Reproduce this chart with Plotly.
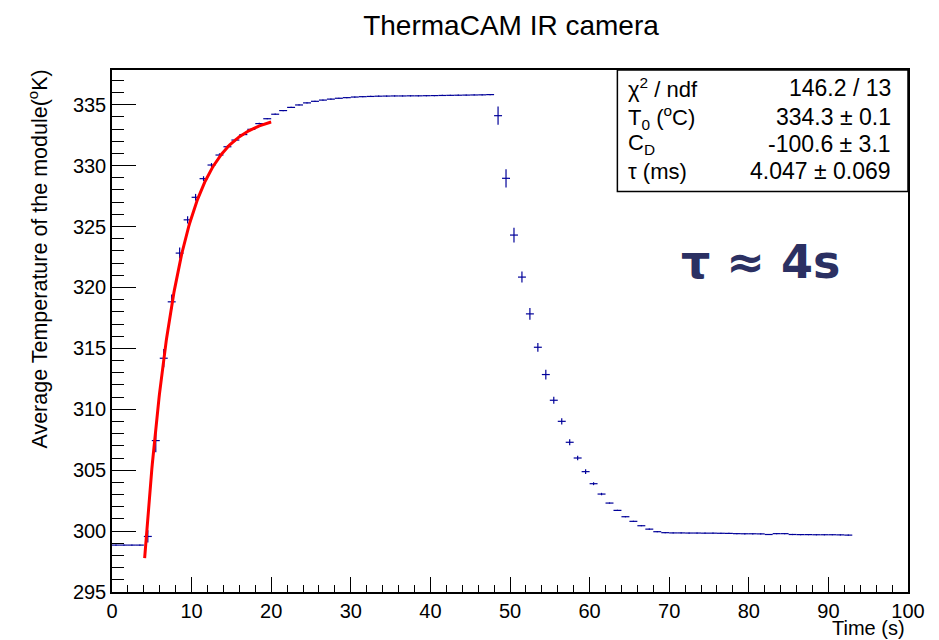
import numpy as np
import plotly.graph_objects as go

# ---- measured temperature profile (1 s bins, bin centres) ----
bin_centres = [i + 0.5 for i in range(93)]
temperature = [
    298.85, 298.85, 298.85, 298.85, 299.56, 307.43, 314.19, 318.82, 322.82, 325.55,
    327.40, 328.93, 330.05, 330.87, 331.55, 332.10, 332.55, 332.98, 333.45, 333.85,
    334.22, 334.52, 334.78, 334.98, 335.15, 335.28, 335.38, 335.46, 335.53, 335.58,
    335.63, 335.66, 335.68, 335.70, 335.71, 335.72, 335.72, 335.73, 335.73, 335.74,
    335.75, 335.76, 335.77, 335.78, 335.79, 335.80, 335.81, 335.83, 334.10, 328.96,
    324.30, 320.85, 317.83, 315.09, 312.85, 310.74, 309.01, 307.29, 306.00, 304.88,
    303.89, 303.04, 302.30, 301.70, 301.18, 300.80, 300.44, 300.16, 299.95, 299.87,
    299.85, 299.85, 299.84, 299.84, 299.83, 299.83, 299.82, 299.81, 299.79, 299.78,
    299.78, 299.77, 299.72, 299.79, 299.79, 299.72, 299.71, 299.71, 299.70, 299.70,
    299.70, 299.69, 299.67,
]
temperature_err = [
    0.05, 0.05, 0.05, 0.05, 0.50, 0.95, 0.75, 0.60, 0.45, 0.30,
    0.28, 0.20, 0.16, 0.14, 0.12, 0.10, 0.07, 0.06, 0.06, 0.05,
    0.05, 0.05, 0.05, 0.05, 0.05, 0.05, 0.05, 0.05, 0.05, 0.05,
    0.05, 0.05, 0.05, 0.05, 0.05, 0.05, 0.05, 0.05, 0.05, 0.05,
    0.05, 0.05, 0.05, 0.05, 0.05, 0.05, 0.05, 0.05, 0.75, 0.75,
    0.60, 0.45, 0.48, 0.36, 0.40, 0.28, 0.25, 0.25, 0.18, 0.20,
    0.12, 0.10, 0.05, 0.05, 0.05, 0.05, 0.05, 0.05, 0.05, 0.05,
    0.05, 0.05, 0.05, 0.05, 0.05, 0.05, 0.05, 0.05, 0.05, 0.05,
    0.05, 0.05, 0.05, 0.05, 0.05, 0.05, 0.05, 0.05, 0.05, 0.05,
    0.05, 0.05, 0.05,
]
BIN_WIDTH = 1.0

# ---- exponential rise fit:  T(t) = T0 + C_D * exp(-t / tau) ----
FIT_T0 = 334.3
FIT_CD = -100.6
FIT_TAU = 4.047
FIT_RANGE = [4.1, 20.0]

stat_labels = ["χ<sup>2</sup> / ndf", "T<sub>0</sub> (<sup>o</sup>C)", "C<sub>D</sub>", "τ (ms)"]
stat_values = ["146.2 / 13", "334.3 ± 0.1", "-100.6 ± 3.1", "4.047 ± 0.069"]

x_ticks = list(range(0, 101, 10))
y_ticks = list(range(295, 336, 5))

FONT = "Liberation Sans, Arial, Helvetica, sans-serif"
DATA_COLOR = "#000099"

t_fit = np.linspace(FIT_RANGE[0], FIT_RANGE[1], 300)
T_fit = FIT_T0 + FIT_CD * np.exp(-t_fit / FIT_TAU)

fig = go.Figure()
fig.add_trace(go.Scatter(
    x=bin_centres, y=temperature, mode="markers",
    marker=dict(size=1, color=DATA_COLOR, opacity=0),
    error_x=dict(type="constant", value=BIN_WIDTH / 2, color=DATA_COLOR,
                 thickness=1.2, width=0),
    error_y=dict(type="data", array=temperature_err, color=DATA_COLOR,
                 thickness=1.2, width=0),
    showlegend=False, hoverinfo="x+y",
))
fig.add_trace(go.Scatter(
    x=t_fit, y=T_fit, mode="lines",
    line=dict(color="#ff0000", width=3),
    showlegend=False,
))

L, R, T, B = 112, 30.5, 70, 48.3
W, H = 939, 640
pw, ph = W - L - R, H - T - B


def px_x(p):
    return (p - L) / pw


def px_y(p):
    return (H - B - p) / ph


fig.update_layout(
    width=W, height=H,
    margin=dict(l=L, r=R, t=T, b=B, pad=0),
    paper_bgcolor="white", plot_bgcolor="white",
    font=dict(family=FONT, size=20, color="black"),
    title=dict(text="ThermaCAM IR camera", x=511 / W, xref="container",
               xanchor="center", y=1 - 25 / H, yref="container", yanchor="middle",
               font=dict(family=FONT, size=28, color="black")),
    xaxis=dict(range=[0, 100], tickvals=x_ticks, ticks="inside", ticklen=15,
               tickwidth=1, tickcolor="black",
               minor=dict(dtick=2, ticks="inside", ticklen=7, tickwidth=1, tickcolor="black"),
               showgrid=False, zeroline=False, showline=True, linecolor="black",
               linewidth=1.5, mirror=True, tickfont=dict(size=20)),
    yaxis=dict(range=[295, 337.85], tickvals=y_ticks, ticks="inside", ticklen=24,
               tickwidth=1, tickcolor="black",
               minor=dict(dtick=1, ticks="inside", ticklen=12, tickwidth=1, tickcolor="black"),
               showgrid=False, zeroline=False, showline=True, linecolor="black",
               linewidth=1.5, mirror=True, tickfont=dict(size=20)),
)

# axis titles
fig.add_annotation(text="Average Temperature of the module(<sup>o</sup>K)",
                   xref="paper", yref="paper", x=px_x(38), y=px_y(68),
                   xanchor="center", yanchor="top", textangle=-90, showarrow=False,
                   font=dict(size=21.5))
fig.add_annotation(text="Time (s)", xref="paper", yref="paper",
                   x=px_x(907), y=px_y(628), xanchor="right", yanchor="middle",
                   showarrow=False, font=dict(size=20))

# fit statistics box
fig.add_shape(type="rect", xref="paper", yref="paper",
              x0=px_x(617.7), x1=1.0, y0=px_y(191.5), y1=1.0,
              line=dict(color="black", width=1.5), fillcolor="white", layer="above")
row_y = [88, 117, 144, 171]
for lab, val, yy in zip(stat_labels, stat_values, row_y):
    fig.add_annotation(text=lab, xref="paper", yref="paper", x=px_x(626), y=px_y(yy),
                       xanchor="left", yanchor="middle", showarrow=False,
                       font=dict(size=22))
    fig.add_annotation(text=val, xref="paper", yref="paper", x=px_x(893), y=px_y(yy),
                       xanchor="right", yanchor="middle", showarrow=False,
                       font=dict(size=23))

# time constant label
fig.add_annotation(text="<b>τ ≈ 4s</b>", xref="x", yref="y", x=81.5, y=322.1,
                   xanchor="center", yanchor="middle", showarrow=False,
                   font=dict(family="DejaVu Sans, sans-serif", size=46, color="#2b3062"))

fig.write_html("out.html")
